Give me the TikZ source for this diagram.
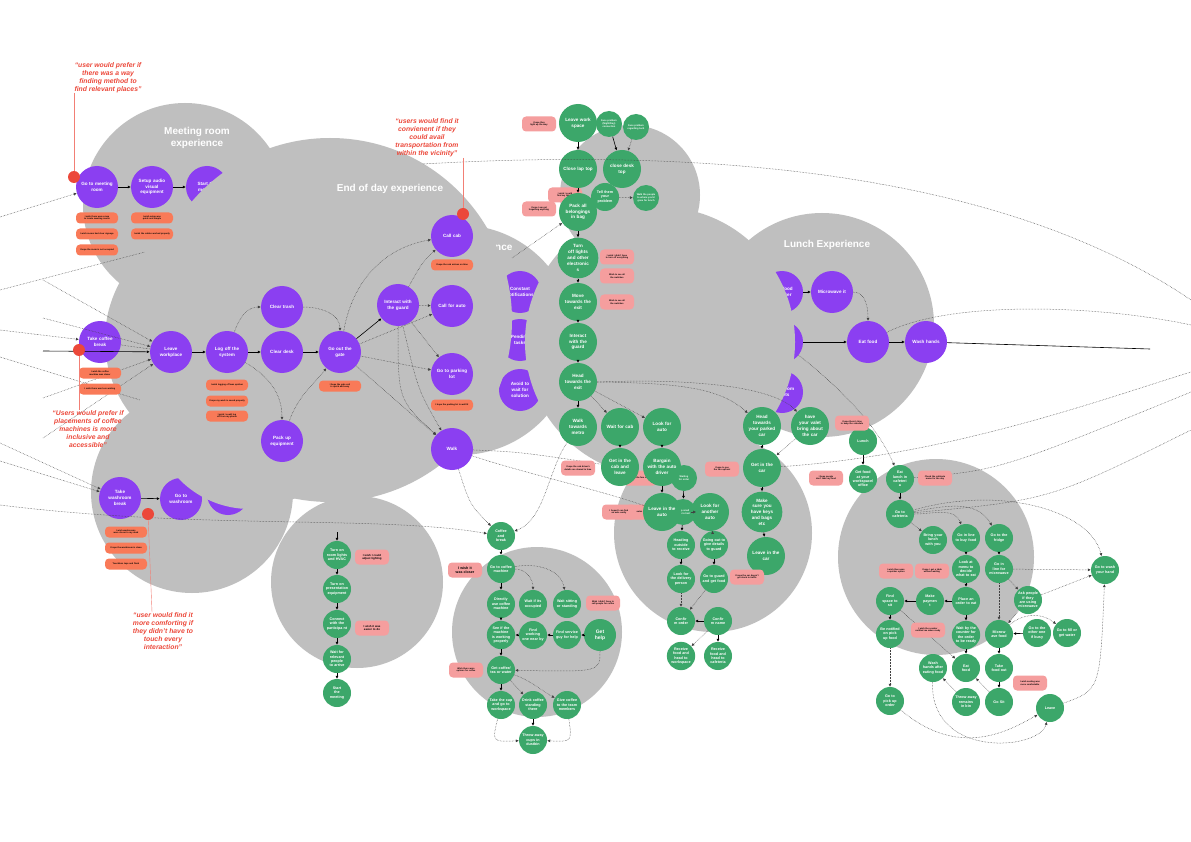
\documentclass[tikz,border=0pt]{standalone}
\usepackage{fontspec}
\setmainfont{Liberation Sans}
\usetikzlibrary{arrows.meta}
\pgfdeclarelayer{back}
\pgfdeclarelayer{edges}
\pgfdeclarelayer{front}
\pgfsetlayers{back,main,edges,front}
\definecolor{purp}{RGB}{139,63,241}
\definecolor{grn}{RGB}{60,167,106}
\definecolor{blobgrey}{RGB}{191,191,191}
\definecolor{orng}{RGB}{249,122,88}
\definecolor{pnk}{RGB}{245,158,158}
\definecolor{qred}{RGB}{236,72,58}
\hyphenpenalty=10000
\exhyphenpenalty=10000
\tikzset{
 nbase/.style={circle,inner sep=0pt,align=center,text=white,font=\bfseries\fontsize{4.6}{5.8}\selectfont},
 pnode/.style={nbase,fill=purp,minimum size=42pt,text width=36pt},
 gnode/.style={nbase,fill=grn,minimum size=38pt,text width=31pt},
 gsm/.style={nbase,fill=grn,minimum size=28pt,text width=23pt,font=\bfseries\fontsize{3.7}{4.4}\selectfont},
 gtn/.style={nbase,fill=grn,minimum size=26pt,text width=19pt,font=\bfseries\fontsize{2.4}{2.9}\selectfont},
 onote/.style={rectangle,rounded corners=4pt,fill=orng,minimum width=42pt,minimum height=11pt,inner sep=1pt,text width=36pt,align=center,font=\bfseries\fontsize{2.2}{2.6}\selectfont},
 knote/.style={onote,fill=pnk,minimum width=34pt,minimum height=15pt,text width=28pt},
 sarrow/.style={-{Latex[length=3pt,width=3pt]},line width=0.6pt,black},
 darrow/.style={-{Latex[length=3pt,width=3pt]},densely dotted,line width=0.5pt,black!75},
 dline/.style={densely dotted,line width=0.5pt,black!75},
 quotetxt/.style={text=qred,font=\bfseries\itshape\fontsize{6.8}{8}\selectfont,align=center},
 titletxt/.style={text=white,font=\bfseries\fontsize{10}{12}\selectfont,align=center},
 reddot/.style={circle,fill=qred,minimum size=12pt,inner sep=0pt},
 redline/.style={qred!70,line width=0.4pt},
}
\begin{document}
\begin{tikzpicture}[x=1pt,y=-1pt]
\useasboundingbox (0,0) rectangle (1191,842);
% ================= BACK LAYER: blobs and partly hidden nodes
\begin{pgfonlayer}{back}
\fill[white] (0,0) rectangle (1191,842);
\fill[blobgrey] (185,205) circle (102pt);
\node[pnode] (mr3) at (207,187) {Start the\\meeting};
\fill[blobgrey] (460,340) circle (115pt);
\node[titletxt,anchor=east] (cetitle) at (516,248) {Office experience};
\node[pnode] (ce1) at (520,292) {Constant\\notifications};
\node[pnode] (ce2) at (520,340) {Pending\\tasks};
\node[pnode] (ce3) at (520,390) {Avoid to\\wait for\\solution};
\fill[blobgrey] (822,325) circle (112pt);
\node[pnode] (lp1) at (782,292) {Heat food\\in locker};
\node[pnode] (lp2) at (782,342) {Go to cafe};
\node[pnode] (lp3) at (782,392) {Order from\\outlets};
\fill[blobgrey] (192,492) circle (101pt);
\node[pnode] (wb2) at (181,499) {Go to\\washroom};
\node[pnode] (wb3) at (228,494) {Wash\\hands};
\fill[blobgrey] (225,340) circle (120pt);
\fill[blobgrey] (330,320) circle (182pt);
\fill[blobgrey] (250,410) circle (99pt);
\fill[blobgrey] (357,582) circle (86pt);
\fill[blobgrey] (537,632) circle (85pt);
\fill[blobgrey] (630,195) circle (70pt);
\fill[blobgrey] (660,342) circle (135pt);
\fill[blobgrey] (713,533) circle (99pt);
\fill[blobgrey] (936,557) circle (98pt);
\node[knote] (k3) at (565,195) {I wish I could find my things};
\node[knote] (k8) at (640,478) {I hope the fare is fair};
\node[knote] (k11) at (643,512) {I wish autos were around};
\end{pgfonlayer}
% ================= MAIN LAYER: nodes
\node[pnode] (mr1) at (97,187) {Go to meeting\\room};
\node[pnode] (mr2) at (152,187) {Setup audio\\visual\\equipment};
\node[pnode] (tc) at (100,342) {Take coffee\\break};
\node[pnode] (lw) at (171,352) {Leave\\workplace};
\node[pnode] (lo) at (227,352) {Log off the\\system};
\node[pnode] (ct) at (282,307) {Clear trash};
\node[pnode] (cd) at (282,352) {Clear desk};
\node[pnode] (pu) at (282,441) {Pack up\\equipment};
\node[pnode] (gg) at (340,352) {Go out the\\gate};
\node[pnode] (ig) at (398,305) {Interact with\\the guard};
\node[pnode] (cc) at (452,236) {Call cab};
\node[pnode] (ca) at (452,306) {Call for auto};
\node[pnode] (gp) at (452,374) {Go to parking\\lot};
\node[pnode] (wk) at (452,449) {Walk};
\node[pnode] (wb1) at (120,498) {Take\\washroom\\break};
\node[pnode] (lm) at (832,292) {Microwave it};
\node[pnode] (le) at (868,342) {Eat food};
\node[pnode] (lh) at (926,342) {Wash hands};
% green end of day group
\node[gnode] (g1) at (578,123) {Leave work\\space};
\node[gtn] (g2) at (609,124) {Face problem (Night/Day) connection};
\node[gtn] (g3) at (636,127) {Face problem regarding tech};
\node[gnode] (g4) at (578,169) {Close lap top};
\node[gnode] (g5) at (622,169) {close desk\\top};
\node[gsm] (g6) at (605,197) {Tell them your problem};
\node[gtn] (g7) at (646,198) {Walk the people to where you'd gone for lunch};
\node[gnode] (g8) at (578,212) {Pack all\\belongings\\in bag};
\node[gnode] (g9) at (578,258) {Turn\\ off lights\\ and other\\ electronic\\ s};
\node[gnode] (g10) at (578,302) {Move\\towards the\\exit};
\node[gnode] (g11) at (578,342) {Interact\\with the\\guard};
\node[gnode] (g12) at (578,382) {Head\\towards the\\exit};
\node[gnode] (g13) at (578,427) {Walk\\towards\\metro};
\node[gnode] (g14) at (620,427) {Wait for cab};
\node[gnode] (g15) at (662,427) {Look for\\auto};
\node[gnode] (g16) at (620,467) {Get in the\\cab and\\leave};
\node[gtn] (g18) at (684,478) {Waiting for order};
\node[gnode] (g17) at (662,467) {Bargain\\with the auto\\driver};
\node[gtn] (g20) at (683,512) {Keep small cash to hail};
\node[gnode] (g19) at (662,512) {Leave in the\\auto};
\node[gnode] (g21) at (710,512) {Look for\\another\\auto};
\node[gsm] (g22) at (681,545) {Heading outside to receive};
\node[gsm] (g23) at (714,545) {Going out to give details to guard};
\node[gsm] (g24) at (681,579) {Look for the delivery person};
\node[gsm] (g25) at (714,579) {Go to guard and get food};
\node[gsm] (co) at (681,621) {Confir\\m order};
\node[gsm] (cn) at (718,621) {Confir\\m name};
\node[gsm] (r1) at (681,656) {Receive food and head to workspace};
\node[gsm] (r2) at (718,656) {Receive food and head to cafeteria};
\node[gnode] (h1) at (762,426) {Head\\towards\\your parked\\car};
\node[gnode] (h2) at (810,426) {have\\your valet\\bring about\\the car};
\node[gnode] (h3) at (762,468) {Get in the\\car};
\node[gnode] (h4) at (762,512) {Make\\sure you\\have keys\\and bags\\etc};
\node[gnode] (h5) at (766,556) {Leave in the\\car};
% lunch green
\node[gsm] (l1) at (863,441) {Lunch};
\node[gsm] (l2) at (863,479) {Get food at your workspace/ office};
\node[gsm] (l3) at (900,479) {Eat\\lunch in\\cafeteri\\a};
\node[gsm] (l4) at (900,514) {Go to\\cafeteria};
\node[gsm] (l5) at (933,540) {Bring your lunch with you};
\node[gsm] (l6) at (966,538) {Go in line to buy food};
\node[gsm] (l7) at (999,538) {Go to the fridge};
\node[gsm] (l8) at (966,569) {Look at menu to decide what to eat};
\node[gsm] (l9) at (999,569) {Go in line for microwave};
\node[gsm] (l10) at (966,601) {Place an order to eat};
\node[gsm] (l11) at (930,601) {Make\\paymen\\t};
\node[gsm] (l12) at (890,601) {Find\\space to\\sit};
\node[gsm] (l13) at (1028,600) {Ask people if they are using microwave};
\node[gsm] (l14) at (890,634) {Be notified on pick up food};
\node[gsm] (l15) at (966,635) {Wait by the counter for the order to be ready};
\node[gsm] (l16) at (999,634) {Microw\\ave food};
\node[gsm] (l17) at (1037,633) {Go to the other one if busy};
\node[gsm] (l18) at (1067,633) {Go to fill or get water};
\node[gsm] (l19) at (933,668) {Wash hands after eating food};
\node[gsm] (l20) at (966,668) {Eat\\food};
\node[gsm] (l21) at (999,668) {Take\\food out};
\node[gsm] (l22) at (966,702) {Throw away remains in bin};
\node[gsm] (l23) at (999,702) {Go Sit};
\node[gsm] (l24) at (890,701) {Go to\\pick up\\order};
\node[gsm] (l25) at (1050,708) {Leave};
\node[gsm] (l26) at (1105,570) {Go to wash your hand};
% coffee
\node[gsm] (c1) at (501,536) {Coffee\\and\\break};
\node[gsm] (c2) at (501,569) {Go to coffee machine};
\node[gsm] (c3) at (501,604) {Directly use coffee machine};
\node[gsm] (c4) at (533,604) {Wait if its occupied};
\node[gsm] (c5) at (567,604) {Wait sitting or standing};
\node[gsm] (c6) at (501,635) {See if the machine is working properly};
\node[gsm] (c7) at (533,635) {Find working one near by};
\node[gsm] (c8) at (567,635) {Find service guy for help};
\node[gsm,minimum size=32pt,font=\bfseries\fontsize{5}{6}\selectfont] (c9) at (600,635) {Get\\help};
\node[gsm] (c10) at (501,670) {Get coffee/ tea or water};
\node[gsm] (c11) at (501,705) {Take the cup and go to workspace};
\node[gsm] (c12) at (533,705) {Drink coffee standing there};
\node[gsm] (c13) at (567,705) {Give coffee to the team members};
\node[gsm] (c14) at (533,740) {Throw away cups in dustbin};
% meeting start
\node[gsm] (m1) at (337,555) {Turn on room lights and HVAC};
\node[gsm] (m2) at (337,589) {Turn on presentation equipment};
\node[gsm] (m3) at (337,624) {Connect with the participa nt};
\node[gsm] (m4) at (337,659) {Wait for relevant people to arrive};
\node[gsm] (m5) at (337,693) {Start\\the\\meeting};
% ================= EDGES
\begin{pgfonlayer}{edges}
\coordinate (L1) at (0,217);
\coordinate (L2) at (0,290);
\coordinate (L2e) at (145,252);
\coordinate (L3) at (43,280);
\coordinate (L4) at (43,318);
\coordinate (L5) at (0,330);
\coordinate (L5b) at (0,357);
\coordinate (L5e) at (140,400);
\coordinate (L6) at (43,398);
\coordinate (L7) at (43,438);
\coordinate (L8) at (0,443);
\coordinate (L8b) at (0,461);
\coordinate (L9) at (0,505);
\coordinate (L0) at (43,351);
\coordinate (R1) at (1150,349);
\coordinate (R2) at (1191,392);
\coordinate (R3) at (1191,430);
\coordinate (R4) at (1191,372);
\coordinate (R6) at (1191,300);
\coordinate (R7) at (1191,325);
\coordinate (T1) at (423,164);
\coordinate (M0) at (337,532);
\coordinate (cex) at (512,258);
% meeting room
\draw[darrow] (L1) -- (mr1);
\draw[dline] (L2) -- (L2e);
\draw[sarrow] (mr1) -- (mr2);
\draw[sarrow] (mr2) -- (mr3);
% end of day
\draw[darrow] (L3) -- (lw);
\draw[darrow] (L4) -- (lw);
\draw[darrow] (L5) -- (tc);
\draw[dline] (L5b) -- (L5e);
\draw[darrow] (L6) -- (lw);
\draw[darrow] (L7) -- (lw);
\draw[sarrow] (L0) -- (lw);
\draw[dline] (tc) -- (lw);
\draw[sarrow] (lw) -- (lo);
\draw[sarrow] (lo) -- (cd);
\draw[sarrow] (cd) -- (gg);
\draw[sarrow] (gg) -- (ig);
\draw[darrow] (lo) to[out=70,in=180] (ct);
\draw[darrow] (lo) to[out=-30,in=90] (pu);
\draw[darrow] (ct) to[out=0,in=90] (gg);
\draw[darrow] (pu) to[out=70,in=230] (gg);
\draw[darrow] (gg) to[out=80,in=190] (cc);
\draw[darrow] (gg) -- (ca);
\draw[darrow] (ig) -- (ca);
\draw[darrow] (gg) -- (gp);
\draw[darrow] (gg) -- (wk);
\draw[darrow] (ig) to[out=60,in=220] (cc);
\draw[darrow] (ig) -- (gp);
\draw[darrow] (ig) .. controls (398,400) .. (wk);
\draw[darrow] (ig) .. controls (418,390) .. (wk);
% washroom
\draw[darrow] (L8) -- (wb1);
\draw[darrow] (L8b) -- (wb1);
\draw[sarrow] (wb1) -- (wb2);
% green
\draw[sarrow] (g1) -- (g4);
\draw[sarrow] (g4) -- (g8);
\draw[sarrow] (g8) -- (g9);
\draw[sarrow] (g9) -- (g10);
\draw[sarrow] (g10) -- (g11);
\draw[sarrow] (g11) -- (g12);
\draw[sarrow] (g12) -- (g13);
\draw[sarrow] (g2) -- (g5);
\draw[darrow] (g3) -- (g5);
\draw[darrow] (g6) -- (g7);
\draw[darrow] (cex) -- (g8);
\draw[darrow] (g12) -- (g14);
\draw[darrow] (g12) -- (g15);
\draw[darrow] (g12.east) .. controls (680,383) and (720,388) .. (h1);
\draw[darrow] (g12.east) .. controls (700,378) and (775,388) .. (h2);
\draw[sarrow] (g14) -- (g16);
\draw[sarrow] (g15) -- (g17);
\draw[sarrow] (g17) -- (g19);
\draw[sarrow] (g18) -- (g20);
\draw[darrow] (g21) -- (g20);
\draw[sarrow] (g20) -- (g22);
\draw[darrow] (g21) -- (g23);
\draw[sarrow] (g22) -- (g24);
\draw[sarrow] (g23) -- (g25);
\draw[darrow] (g24) -- (co);
\draw[darrow] (g25) -- (co);
\draw[sarrow] (cn) -- (co);
\draw[darrow] (cn) -- (r1);
\draw[sarrow] (cn) -- (r2);
\draw[sarrow] (h1) -- (h3);
\draw[sarrow] (h3) -- (h4);
\draw[sarrow] (h4) -- (h5);
\draw[darrow] (h2) -- (h3);
\draw[dline] (wk) .. controls (520,452) .. (g16);
\draw[dline] (wk) .. controls (520,472) and (600,490) .. (g19);
\draw[darrow] (g13) .. controls (548,470) and (545,520) .. (c1);
% lunch purple
\draw[sarrow] (lp1) -- (lm);
\draw[sarrow] (lp2) -- (le);
\draw[darrow] (lm) to[out=0,in=90] (le);
\draw[sarrow] (le) -- (lh);
\draw[line width=0.6pt] (lh) -- (R1);
\draw[darrow] (lp2) .. controls (830,380) and (875,420) .. (l3);
\draw[dline] (T1) .. controls (700,148) and (1000,170) .. (R6);
\draw[dline] (le) .. controls (950,300) and (1100,305) .. (R7);
% lunch green
\draw[sarrow] (l1) -- (l2);
\draw[sarrow] (l3) -- (l4);
\draw[darrow] (l4) -- (l5);
\draw[darrow] (l4) to[out=0,in=110] (l6);
\draw[darrow] (l4) to[out=10,in=120] (l7);
\draw[darrow] (l4) .. controls (1000,485) and (1090,510) .. (l26);
\draw[dline] (l3) .. controls (1000,470) .. (R2);
\draw[dline] (l4) .. controls (1050,500) .. (R3);
\draw[dline] (h3) .. controls (950,455) and (1100,400) .. (R4);
\draw[sarrow] (l6) -- (l8);
\draw[sarrow] (l8) -- (l10);
\draw[sarrow] (l10) -- (l15);
\draw[sarrow] (l15) -- (l20);
\draw[sarrow] (l10) -- (l11);
\draw[sarrow] (l11) -- (l12);
\draw[sarrow] (l12) -- (l14);
\draw[darrow] (l14) -- (l24);
\draw[sarrow] (l7) -- (l9);
\draw[darrow] (l9) -- (l16);
\draw[darrow] (l9) -- (l13);
\draw[darrow] (l13) -- (l16);
\draw[darrow] (l9) -- (l26);
\draw[darrow] (l13) -- (l26);
\draw[sarrow] (l17) -- (l16);
\draw[darrow] (l16) to[bend left=40] (l18);
\draw[sarrow] (l16) -- (l21);
\draw[sarrow] (l21) -- (l23);
\draw[darrow] (l23) -- (l20);
\draw[darrow] (l22) -- (l19);
\draw[darrow] (l12) -- (l20);
\draw[darrow] (l24) .. controls (960,760) and (1010,730) .. (l25);
\draw[darrow] (l19) .. controls (930,760) and (1040,750) .. (l25);
\draw[darrow] (l25) .. controls (1100,690) .. (l26);
% coffee
\draw[sarrow] (c1) -- (c2);
\draw[sarrow] (c2) -- (c3);
\draw[sarrow] (c3) -- (c6);
\draw[sarrow] (c6) -- (c10);
\draw[sarrow] (c10) -- (c11);
\draw[darrow] (c2) to[out=0,in=90] (c4);
\draw[darrow] (c2) to[out=10,in=100] (c5);
\draw[sarrow] (c9) -- (c8);
\draw[sarrow] (c8) -- (c7);
\draw[sarrow] (c7) -- (c6);
\draw[darrow] (c9) .. controls (600,672) .. (c10);
\draw[darrow] (c10) -- (c12);
\draw[darrow] (c10) to[out=-20,in=150] (c13);
\draw[darrow] (c11) .. controls (492,742) .. (c14);
\draw[darrow] (c13) .. controls (572,742) .. (c14);
\draw[sarrow] (c12) -- (c14);
\draw[darrow] (wk) .. controls (470,505) .. (c1);
\draw[darrow] (L9) .. controls (200,530) and (380,515) .. (c1);
% meeting start
\draw[sarrow] (M0) -- (m1);
\draw[sarrow] (m1) -- (m2);
\draw[sarrow] (m2) -- (m3);
\draw[sarrow] (m3) -- (m4);
\draw[sarrow] (m4) -- (m5);
\end{pgfonlayer}
% ================= FRONT: notes, titles, quotes
\begin{pgfonlayer}{front}
\node[onote] (mn1) at (97,218) {I wish there was a map to locate meeting rooms};
\node[onote] (mn2) at (97,234) {I wish rooms had clear signage};
\node[onote] (mn3) at (97,250) {I hope the room is not occupied};
\node[onote] (mn4) at (152,218) {I wish setup was quick and simple};
\node[onote] (mn5) at (152,234) {I wish the cables worked properly};
\node[onote] (tn1) at (100,373) {I wish the coffee machine was closer};
\node[onote] (tn2) at (100,389) {I wish there was less waiting};
\node[onote] (on1) at (227,385) {I wish logging off was quicker};
\node[onote] (on2) at (227,401) {I hope my work is saved properly};
\node[onote] (on3) at (227,416) {I wish I could log off from my phone};
\node[onote] (gn1) at (340,386) {I hope the gate exit is quick and easy};
\node[onote] (cn1) at (452,265) {I hope the cab arrives on time};
\node[onote] (pn1) at (452,405) {I hope the parking lot is well lit};
\node[onote] (wn1) at (126,532) {I wish washrooms were closer to my desk};
\node[onote] (wn2) at (126,548) {I hope the washroom is clean};
\node[onote] (wn3) at (126,564) {Touchless taps and flush};
\node[knote] (k1) at (539,124) {I hope they light up the way};
\node[knote] (k2) at (539,209) {I hope I am not forgetting anything};
\node[knote] (k4) at (617,257) {I wish I didn't have to turn off everything};
\node[knote] (k5) at (617,276) {Wish to see all the switches};
\node[knote] (k6) at (617,302) {Wish to see all the switches};
\node[knote] (k7) at (578,468) {I hope the cab driver's details are shared in time};
\node[knote] (k9) at (722,469) {I hope to see the fare upfront};
\node[knote] (k10) at (619,512) {I hoped I can find an auto easily};
\node[knote] (k12) at (747,577) {I hope the car doesn't get stuck in traffic};
\node[knote] (kl1) at (852,423) {I hope there's time to keep the schedule};
\node[knote] (kl2) at (826,478) {I hope people don't take my food};
\node[knote] (kl3) at (935,478) {Check the cafeteria menu for the day};
\node[knote] (kl4) at (896,571) {I wish there was a quicker option};
\node[knote] (kl5) at (932,571) {I hope I get a table without waiting};
\node[knote] (kl6) at (928,630) {I wish the counter notified me when ready};
\node[knote] (kl7) at (1030,683) {I wish seating was more comfortable};
\node[knote,font=\bfseries\fontsize{3.6}{4.3}\selectfont] (ck1) at (465,570) {I wish it\\was closer};
\node[knote] (ck2) at (603,603) {Wish I didn't have to call people for coffee};
\node[knote] (ck3) at (466,670) {Wish there were options for coffee};
\node[knote,font=\bfseries\fontsize{2.8}{3.3}\selectfont] (mk1) at (372,557) {I wish I could adjust lighting};
\node[knote,font=\bfseries\fontsize{2.8}{3.3}\selectfont] (mk2) at (372,628) {I wish it was easier to do};
% titles
\node[titletxt] (t1) at (197,138) {Meeting room\\experience};
\node[titletxt] (t2) at (390,189) {End of day experience};
\node[titletxt] (t3) at (827,245) {Lunch Experience};
% quotes
\node[quotetxt] (q1) at (108,78) {“user would prefer if\\there was a way\\finding method to\\find relevant places”};
\node[quotetxt] (q2) at (88,429) {“Users would prefer if\\placements of coffee\\machines is more\\inclusive and\\accessible”};
\node[quotetxt] (q3) at (163,631) {“user would find it\\more comforting if\\they didn't have to\\touch every\\interaction”};
\node[quotetxt] (q4) at (427,138) {“users would find it\\convienent if they\\could avail\\transportation from\\within the vicinity”};
\node[reddot] (d1) at (74,177) {};
\node[reddot] (d2) at (79,350) {};
\node[reddot] (d3) at (148,514) {};
\node[reddot] (d4) at (463,214) {};
\coordinate (q1b) at (74,93);
\coordinate (q2b) at (79,410);
\coordinate (q3b) at (152,612);
\coordinate (q4b) at (463,158);
\draw[redline] (q1b) -- (d1);
\draw[redline] (d2) -- (q2b);
\draw[redline] (d3) -- (q3b);
\draw[redline] (q4b) -- (d4);
\end{pgfonlayer}
\end{tikzpicture}
\end{document}
